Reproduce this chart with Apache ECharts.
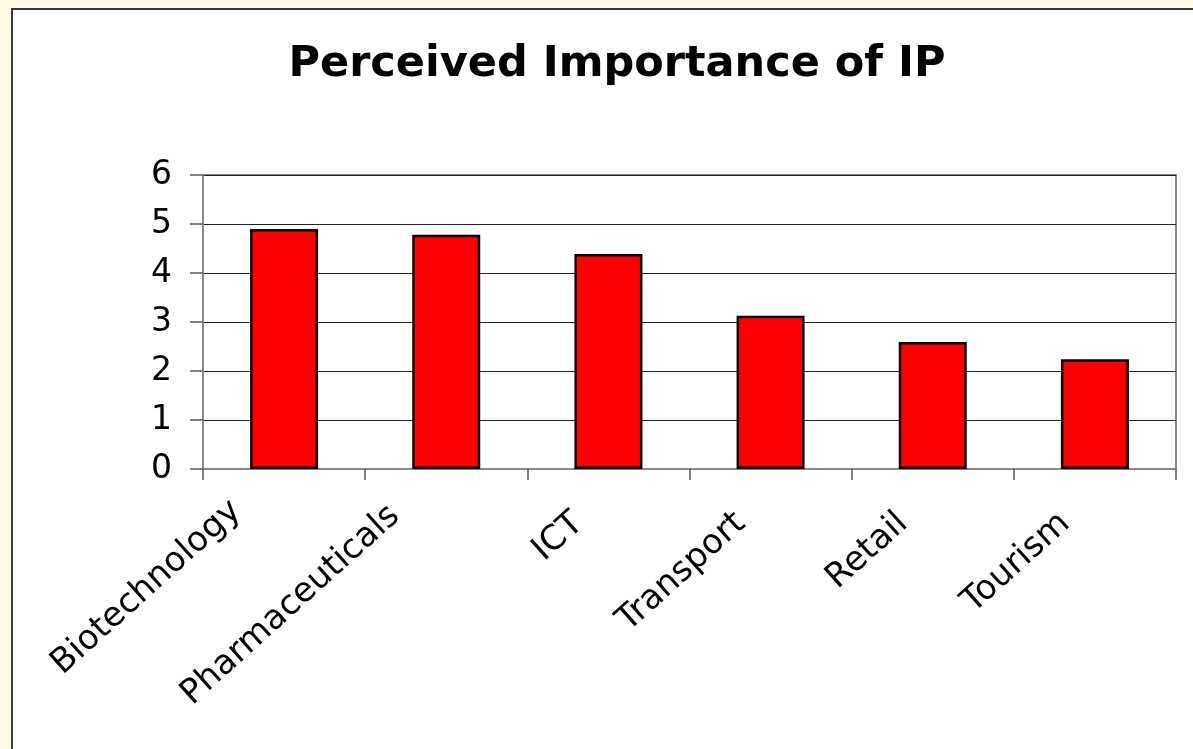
<!DOCTYPE html>
<html>
<head>
<meta charset="utf-8">
<script src="https://cdn.jsdelivr.net/npm/echarts@6/dist/echarts.min.js"></script>
<style>
  html, body { margin: 0; padding: 0; background: #FFFBE6; }
  #frame {
    position: absolute; left: 11px; top: 8px; width: 1200px; height: 760px;
    background: #ffffff; border: 2px solid #3a3a3a;
  }
  #chart { position: absolute; left: 0; top: 0; width: 1193px; height: 749px; }
</style>
</head>
<body>
<div id="frame"></div>
<div id="chart"></div>
<script>
const categories = ['Biotechnology', 'Pharmaceuticals', 'ICT', 'Transport', 'Retail', 'Tourism'];
const importance = [4.9, 4.78, 4.39, 3.13, 2.59, 2.24];
const yTicks = [0, 1, 2, 3, 4, 5, 6];

const font = 'DejaVu Sans';

// the first two labels sit a little further up-left in the original
const labelRich = {
  l0: { padding: [0, 5, 42, 0] },
  l1: { padding: [0, 11, 40, 0] },
  l2: { padding: [0, 0, 0, 0] },
  l3: { padding: [0, 0, 0, 0] },
  l4: { padding: [0, 0, 0, 0] },
  l5: { padding: [0, 0, 0, 0] }
};

const chart = echarts.init(document.getElementById('chart'));
chart.setOption({
  backgroundColor: 'transparent',
  animation: false,
  title: {
    text: 'Perceived Importance of IP',
    left: 612,
    top: 38,
    textAlign: 'center',
    textStyle: { fontFamily: font, fontSize: 43, fontWeight: 'bold', color: '#000' }
  },
  grid: {
    left: 203, top: 175, right: 17, bottom: 280,
    show: true, borderColor: '#888', borderWidth: 2, backgroundColor: '#fff'
  },
  xAxis: {
    type: 'category',
    data: categories,
    axisLine: { lineStyle: { color: '#888', width: 2 } },
    axisTick: { show: true, length: 11, lineStyle: { color: '#555', width: 1.5 } },
    axisLabel: {
      rotate: 42,
      margin: 23,
      padding: [0, 40, 0, 0],
      interval: 0,
      fontFamily: font,
      fontSize: 34,
      color: '#000',
      formatter: (val, idx) => '{l' + idx + '|' + val + '}',
      rich: labelRich
    }
  },
  yAxis: {
    type: 'value',
    min: yTicks[0],
    max: yTicks[yTicks.length - 1],
    interval: 1,
    axisLine: { show: true, lineStyle: { color: '#888', width: 2 } },
    axisTick: { show: true, length: 13, lineStyle: { color: '#555', width: 1.5 } },
    splitLine: { lineStyle: { color: '#222', width: 1.2 } },
    axisLabel: { margin: 31, fontFamily: font, fontSize: 33, color: '#000' }
  },
  series: [{
    type: 'bar',
    data: importance,
    barWidth: 68,
    itemStyle: { color: '#FF0000', borderColor: '#000', borderWidth: 2.5 }
  }]
});
</script>
</body>
</html>
